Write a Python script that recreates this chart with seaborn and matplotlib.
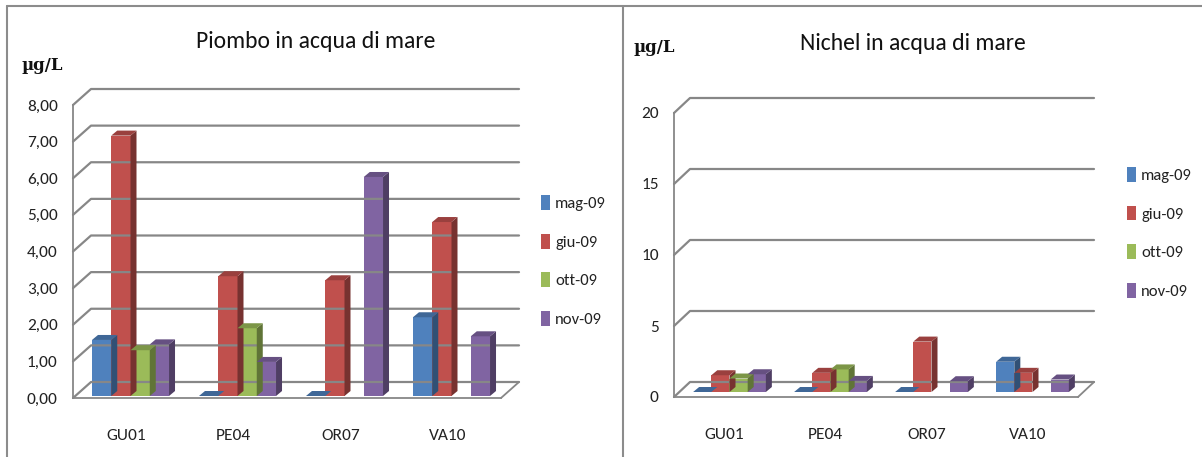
import numpy as np
import pandas as pd
import matplotlib
matplotlib.use("Agg")
import matplotlib.pyplot as plt
import matplotlib.colors as mcolors
from matplotlib.patches import Polygon, Patch
from matplotlib.lines import Line2D
from matplotlib.transforms import IdentityTransform, ScaledTranslation
from matplotlib.ticker import FuncFormatter, FixedLocator
from matplotlib import font_manager
import seaborn as sns

# ---------------- data ----------------
stations = ["GU01", "PE04", "OR07", "VA10"]
months = ["mag-09", "giu-09", "ott-09", "nov-09"]

piombo_mag = [1.53, 0.00, 0.00, 2.15]
piombo_giu = [7.11, 3.27, 3.16, 4.75]
piombo_ott = [1.25, 1.85, np.nan, np.nan]
piombo_nov = [1.41, 0.93, 5.98, 1.63]

nichel_mag = [0.00, 0.00, 0.00, 2.13]
nichel_giu = [1.18, 1.35, 3.55, 1.35]
nichel_ott = [0.95, 1.59, np.nan, np.nan]
nichel_nov = [1.25, 0.78, 0.76, 0.88]

piombo_ticks = [0, 1, 2, 3, 4, 5, 6, 7, 8]
nichel_ticks = [0, 5, 10, 15, 20]

colors = ["#4F81BD", "#C0504D", "#9BBB59", "#8064A2"]

# ---------------- fonts ----------------
sns.set_style("white")
names = {f.name for f in font_manager.fontManager.ttflist}
fam = "Liberation Sans"
for cand in ["Carlito", "Liberation Sans Narrow", "Roboto Condensed", "Open Sans Condensed",
             "Noto Sans Condensed", "Liberation Sans"]:
    if cand in names:
        fam = cand
        break
plt.rcParams["font.family"] = [fam, "DejaVu Sans"]

W, H = 1202, 457
fig = plt.figure(figsize=(W / 100, H / 100), dpi=100)


def long_df(series):
    rows = []
    for m, vals in zip(months, series):
        for s, v in zip(stations, vals):
            rows.append({"station": s, "month": m, "value": v})
    return pd.DataFrame(rows)


def px_axes(x0, y0, x1, y1):
    return fig.add_axes([x0 / W, 1 - y1 / H, (x1 - x0) / W, (y1 - y0) / H])


GRID = "#878787"


def decorate(ax, ticks, fmt, gdx, gdy, bdx, bdy, sx, sy):
    ax.set_xlim(-0.5, len(stations) - 0.5)
    ax.set_ylim(ticks[0], ticks[-1])
    ax.set_yticks(ticks)
    ax.yaxis.set_major_formatter(FuncFormatter(fmt))
    ax.xaxis.set_minor_locator(FixedLocator(np.arange(-0.5, len(stations), 1.0)))
    ax.tick_params(axis="x", which="major", length=0, pad=22, labelsize=12.5, colors="#222222")
    ax.tick_params(axis="x", which="minor", length=8, width=1.3, color=GRID)
    ax.tick_params(axis="y", length=5, width=1.3, color=GRID, pad=6, labelsize=12.5, labelcolor="#222222")
    ax.set_xlabel("")
    ax.set_ylabel("")
    for sp in ["top", "right"]:
        ax.spines[sp].set_visible(False)
    for sp in ["left", "bottom"]:
        ax.spines[sp].set_color(GRID)
        ax.spines[sp].set_linewidth(1.3)
    ax.grid(False)
    ax.set_facecolor("none")

    T = ax.transData
    xl, xr = ax.get_xlim()
    # back-wall gridlines with perspective diagonals
    for v in ticks:
        (X0, Y0) = T.transform((xl, v))
        (X1, _) = T.transform((xr, v))
        fig.add_artist(Line2D([X0, X0 + gdx, X1 + gdx], [Y0, Y0 + gdy, Y0 + gdy],
                              transform=IdentityTransform(), color=GRID, lw=1.6, zorder=0.5))
    (X0, Y0) = T.transform((xr, ticks[0]))
    fig.add_artist(Line2D([X0, X0 + gdx], [Y0, Y0 + gdy], transform=IdentityTransform(),
                          color=GRID, lw=1.3, zorder=0.5))

    # bars sit slightly inside the 3D floor: shift them, then add top/side faces
    shift = ScaledTranslation(sx / 100, sy / 100, fig.dpi_scale_trans)
    TS = T + shift
    for p in list(ax.patches):
        h = p.get_height()
        if not np.isfinite(h):
            continue
        p.set_transform(TS)
        p.set_clip_on(False)
        x0, y0, w = p.get_x(), p.get_y(), p.get_width()
        (A, B) = TS.transform((x0, y0))
        (C, D) = TS.transform((x0 + w, y0 + h))
        c = np.array(mcolors.to_rgb(p.get_facecolor()))
        side = Polygon([(C, B), (C, D), (C + bdx, D + bdy), (C + bdx, B + bdy)],
                       closed=True, transform=IdentityTransform(), fc=c * 0.62, ec="none", zorder=2)
        top = Polygon([(A, D), (C, D), (C + bdx, D + bdy), (A + bdx, D + bdy)],
                      closed=True, transform=IdentityTransform(), fc=c * 0.80, ec="none", zorder=2)
        fig.add_artist(side)
        fig.add_artist(top)


def draw_panel(series, box, ticks, fmt, title, title_xy, unit_xy, leg_xy, gdx, gdy, sx, sy):
    ax = px_axes(*box)
    df = long_df(series)
    sns.barplot(data=df, x="station", y="value", hue="month", hue_order=months,
                palette=colors, saturation=1, width=0.72, gap=0, legend=False,
                errorbar=None, ax=ax, linewidth=0)
    decorate(ax, ticks, fmt, gdx, gdy, 6, 5, sx, sy)
    fig.text(title_xy[0] / W, 1 - title_xy[1] / H, title, ha="center", va="center",
             fontsize=17, color="#111111")
    fig.text(unit_xy[0] / W, 1 - unit_xy[1] / H, "µg/L", ha="left", va="center",
             fontsize=12, fontweight="bold", color="#111111", family=["DejaVu Serif"])
    handles = [Patch(facecolor=c, edgecolor="none") for c in colors]
    fig.legend(handles, months, loc="center left",
               bbox_to_anchor=(leg_xy[0] / W, 1 - leg_xy[1] / H),
               frameon=False, fontsize=12, handlelength=0.55, handleheight=1.0,
               handletextpad=0.3, labelspacing=1.35, borderpad=0, borderaxespad=0,
               labelcolor="#222222")
    return ax


draw_panel([piombo_mag, piombo_giu, piombo_ott, piombo_nov], (73, 105, 501, 398),
           piombo_ticks, lambda v, p: f"{v:.2f}".replace(".", ","),
           "Piombo in acqua di mare", (316, 42), (22, 66), (541, 261), 18, 16, 4, 2)

draw_panel([nichel_mag, nichel_giu, nichel_ott, nichel_nov], (674, 113, 1078, 397),
           nichel_ticks, lambda v, p: f"{v:.0f}",
           "Nichel in acqua di mare", (913, 43), (634, 47), (1127, 233), 16, 15, 5, 5)

# panel frames
BORDER = "#8c8c8c"
fig.add_artist(Line2D([7 / W, 1], [1 - 6 / H, 1 - 6 / H], transform=fig.transFigure, color=BORDER, lw=1.5))
fig.add_artist(Line2D([7 / W, 7 / W], [0, 1 - 6 / H], transform=fig.transFigure, color=BORDER, lw=1.5))
fig.add_artist(Line2D([623 / W, 623 / W], [0, 1 - 6 / H], transform=fig.transFigure, color=BORDER, lw=1.5))

fig.savefig("out.png", dpi=100, facecolor="white")
